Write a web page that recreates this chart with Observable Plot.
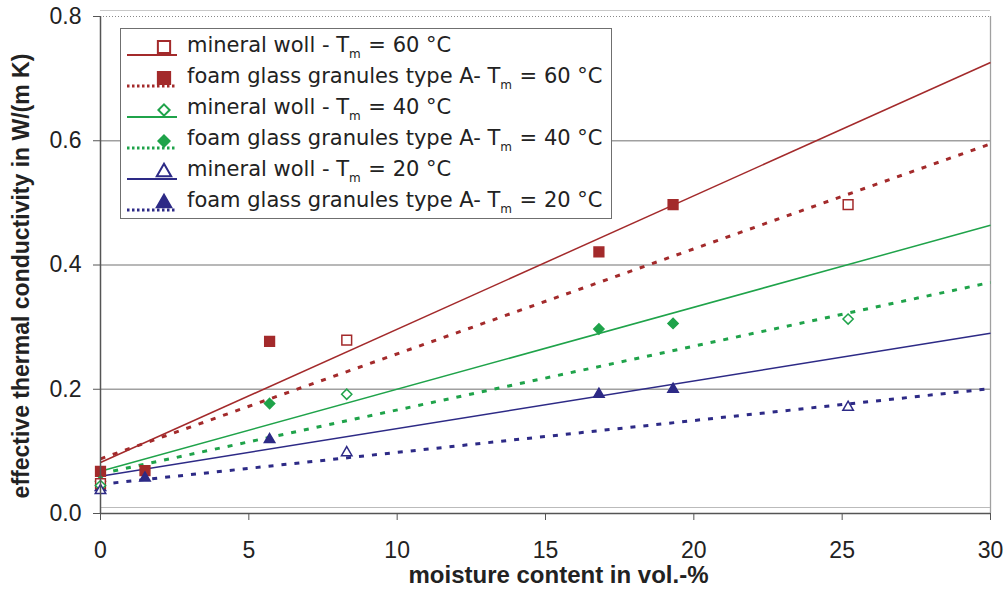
<!DOCTYPE html>
<html><head><meta charset="utf-8">
<script src="https://cdn.jsdelivr.net/npm/d3@7"></script>
<script src="https://cdn.jsdelivr.net/npm/@observablehq/plot@0.6"></script>
<style>
body{margin:0;background:#fff}
#wrap{position:relative;width:1008px;height:594px}
.legend{position:absolute;left:120px;top:28px;width:492px;height:191px;border:1.5px solid #6f6f6f;background:#fff;box-sizing:border-box;padding-top:2px;font-family:"DejaVu Sans",sans-serif;font-size:21px;color:#222}
.row{display:flex;align-items:center;height:31px;white-space:nowrap}
.row svg{margin-left:6px;margin-right:8px;flex:none}
sub{font-size:12px;vertical-align:-6px;margin-right:1px}
</style></head>
<body><div id="wrap"></div>
<script>
// ---- data ----
const seriesNames = [
  "mineral woll - T_m = 60 °C",
  "foam glass granules type A- T_m = 60 °C",
  "mineral woll - T_m = 40 °C",
  "foam glass granules type A- T_m = 40 °C",
  "mineral woll - T_m = 20 °C",
  "foam glass granules type A- T_m = 20 °C"
];
const seriesColors = ["#a32a2b", "#a32a2b", "#1fa34a", "#1fa34a", "#2d2a86", "#2d2a86"];
const seriesSymbols = ["square", "square", "diamond2", "diamond2", "triangle", "triangle"];
const seriesFilled = [false, true, false, true, false, true];
const seriesDashed = [false, true, false, true, false, true];

const mw60X = [0, 8.3, 25.2];
const mw60Y = [0.048, 0.279, 0.497];
const fg60X = [0, 1.5, 5.7, 16.8, 19.3];
const fg60Y = [0.068, 0.069, 0.277, 0.421, 0.497];
const mw40X = [0, 8.3, 25.2];
const mw40Y = [0.045, 0.192, 0.313];
const fg40X = [0, 5.7, 16.8, 19.3];
const fg40Y = [0.052, 0.177, 0.297, 0.306];
const mw20X = [0, 8.3, 25.2];
const mw20Y = [0.037, 0.098, 0.171];
const fg20X = [0, 1.5, 5.7, 16.8, 19.3];
const fg20Y = [0.042, 0.057, 0.119, 0.192, 0.200];

// trend line endpoints (x = 0 and x = 30)
const trendX = [0, 30];
const mw60Trend = [0.082, 0.726];
const fg60Trend = [0.088, 0.595];
const mw40Trend = [0.068, 0.464];
const fg40Trend = [0.064, 0.372];
const mw20Trend = [0.060, 0.290];
const fg20Trend = [0.047, 0.201];

const xTicks = [0, 5, 10, 15, 20, 25, 30];
const yTicks = [0, 0.2, 0.4, 0.6, 0.8];
const gridTicks = [0.2, 0.4, 0.6];

const pointsX = [mw60X, fg60X, mw40X, fg40X, mw20X, fg20X];
const pointsY = [mw60Y, fg60Y, mw40Y, fg40Y, mw20Y, fg20Y];
const trends = [mw60Trend, fg60Trend, mw40Trend, fg40Trend, mw20Trend, fg20Trend];
const symbolR = {square: 5.5, diamond2: 4.6, triangle: 3.9};

// ---- marks ----
const marks = [
  Plot.ruleY(gridTicks, {stroke: "#a0a0a0", strokeWidth: 1.3}),
  Plot.ruleX([30], {stroke: "#a0a0a0", strokeWidth: 1.3}),
  Plot.ruleY([0.8], {stroke: "#888", strokeDasharray: "1,2"}),
  Plot.ruleY([0.8], {stroke: "#c8c8c8", dy: -6}),
  Plot.ruleY([0], {stroke: "#bbb", dy: -6}),
];
trends.forEach((t, i) => {
  const rows = trendX.map((x, j) => ({x, y: t[j]}));
  marks.push(Plot.line(rows, {
    x: "x", y: "y", stroke: seriesColors[i],
    strokeWidth: seriesDashed[i] ? 3 : 1.5,
    strokeLinecap: "butt",
    strokeDasharray: seriesDashed[i] ? "5,8" : null
  }));
});
[1, 3, 5, 0, 2, 4].forEach(i => {
  const rows = pointsX[i].map((x, j) => ({x, y: pointsY[i][j]}));
  marks.push(Plot.dot(rows, {
    x: "x", y: "y", symbol: () => seriesSymbols[i], r: symbolR[seriesSymbols[i]],
    fill: seriesFilled[i] ? seriesColors[i] : "white",
    stroke: seriesColors[i], strokeWidth: 1.5
  }));
});
marks.push(
  Plot.ruleY([0], {stroke: "#555", strokeWidth: 1.5}),
  Plot.ruleX([0], {stroke: "#555", strokeWidth: 1.5, y1: 0, y2: 0.8}),
  Plot.axisY(yTicks, {tickFormat: d3.format(".1f"), tickSize: 7, tickPadding: 12, fontSize: 23, label: null, stroke: "#555"}),
  Plot.axisX(xTicks, {tickSize: 7, tickPadding: 21, fontSize: 23, label: null, stroke: "#555"}),
  Plot.text(["effective thermal conductivity in W/(m K)"], {frameAnchor: "left", textAnchor: "middle", rotate: -90, dx: -79, dy: 11, fontWeight: "bold", fontSize: 23, fill: "#222"}),
  Plot.text(["moisture content in vol.-%"], {frameAnchor: "bottom", dy: 69, dx: 13, fontWeight: "bold", fontSize: 24, fill: "#222"})
);

const chart = Plot.plot({
  width: 1008, height: 594,
  marginLeft: 100, marginRight: 18, marginTop: 16, marginBottom: 81,
  x: {domain: [0, 30]},
  y: {domain: [0, 0.8]},
  style: {fontFamily: "'Liberation Sans Narrow','Arial Narrow','Liberation Sans',sans-serif", color: "#222", background: "#fff"},
  marks
});
const wrap = document.getElementById("wrap");
wrap.appendChild(chart);

// ---- legend (HTML overlay) ----
const legend = document.createElement("div");
legend.className = "legend";
const symMap = {square: d3.symbolSquare, diamond2: d3.symbolDiamond2, triangle: d3.symbolTriangle};
seriesNames.forEach((name, i) => {
  const row = document.createElement("div");
  row.className = "row";
  const ns = "http://www.w3.org/2000/svg";
  const svg = document.createElementNS(ns, "svg");
  svg.setAttribute("width", 52); svg.setAttribute("height", 24);
  const ln = document.createElementNS(ns, "line");
  ln.setAttribute("x1", 0); ln.setAttribute("x2", 50); ln.setAttribute("y1", 20); ln.setAttribute("y2", 20);
  ln.setAttribute("stroke", seriesColors[i]);
  ln.setAttribute("stroke-width", seriesDashed[i] ? 3 : 2);
  if (seriesDashed[i]) ln.setAttribute("stroke-dasharray", "2.5,2.5");
  svg.appendChild(ln);
  const p = document.createElementNS(ns, "path");
  const s = seriesSymbols[i];
  p.setAttribute("d", d3.symbol(symMap[s], s === "diamond2" ? 80 : s === "triangle" ? 90 : 150)());
  p.setAttribute("transform", s === "square" ? "translate(37,12)" : "translate(37,13)");
  p.setAttribute("fill", seriesFilled[i] ? seriesColors[i] : "white");
  p.setAttribute("stroke", seriesColors[i]);
  p.setAttribute("stroke-width", 2);
  svg.appendChild(p);
  row.appendChild(svg);
  const span = document.createElement("span");
  const parts = name.split("T_m");
  span.innerHTML = parts[0] + "T<sub>m</sub>" + parts[1];
  row.appendChild(span);
  legend.appendChild(row);
});
wrap.appendChild(legend);
</script></body></html>
